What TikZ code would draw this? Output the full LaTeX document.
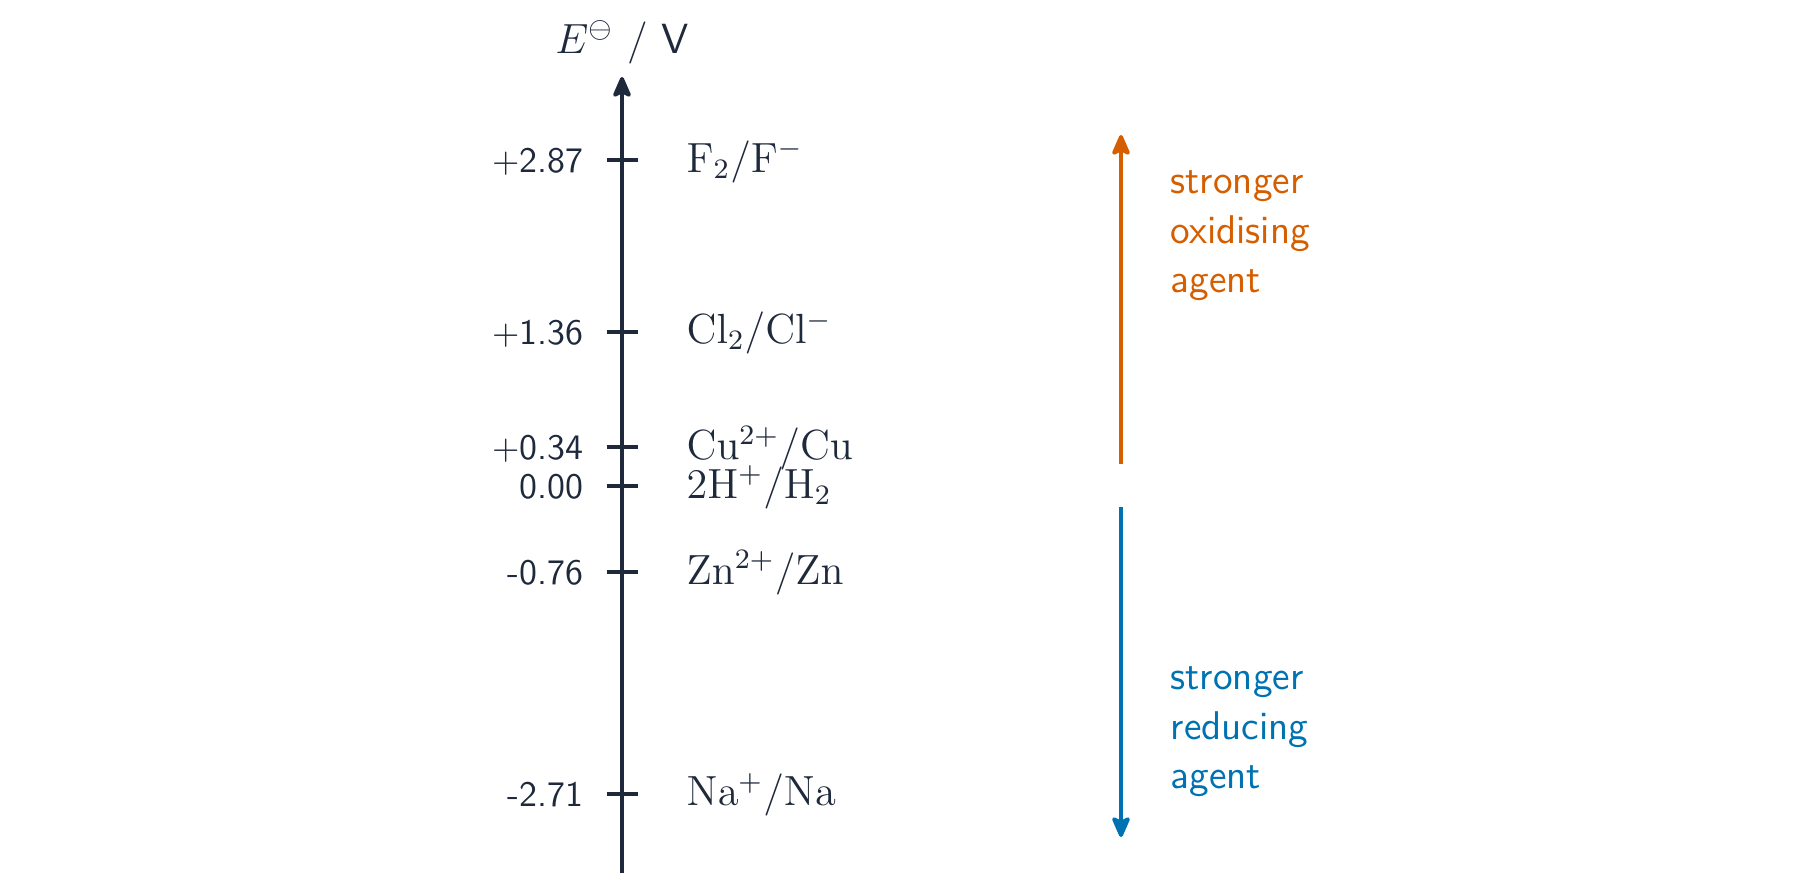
\documentclass[tikz,border=0pt]{standalone}
\usetikzlibrary{arrows.meta}
\definecolor{axiscol}{HTML}{1E293B}
\definecolor{oxcol}{HTML}{D55E00}
\definecolor{redcol}{HTML}{0072B2}
\begin{document}
\begin{tikzpicture}[
  axisline/.style={draw=axiscol, line width=1.1pt},
  tipup/.style={-{Stealth[length=7pt,width=6pt,inset=1.5pt,round]}},
  tickmark/.style={draw=axiscol, line width=1.1pt},
  ticklabel/.style={anchor=base east, inner sep=0pt, text=axiscol, font=\fontsize{10.2}{12}\selectfont\sffamily},
  species/.style={anchor=base west, inner sep=0pt, text=axiscol, font=\fontsize{12}{14}\selectfont},
  agentlabel/.style={anchor=west, inner sep=0pt, align=left, font=\fontsize{11.4}{14.1}\selectfont\sffamily},
  agentarrow/.style={line width=1.1pt, -{Stealth[length=7pt,width=6pt,inset=1.5pt,round]}},
]
\useasboundingbox (0,0) rectangle (18,8.82);
% axis
\coordinate (axbot) at (6.22,0.09);
\coordinate (axtop) at (6.22,8.05);
\draw[axisline,tipup] (axbot) -- (axtop);
\node[anchor=base, inner sep=0pt, text=axiscol, font=\fontsize{12}{14}\selectfont] (title) at (6.22,8.29) {$E^{\ominus}$ / \textsf{V}};
% tick positions
\coordinate (t1) at (6.22,7.217);
\coordinate (t2) at (6.22,5.504);
\coordinate (t3) at (6.22,4.346);
\coordinate (t4) at (6.22,3.960);
\coordinate (t5) at (6.22,3.097);
\coordinate (t6) at (6.22,0.884);
\foreach \t in {t1,t2,t3,t4,t5,t6}{
  \draw[tickmark] ([xshift=-0.155cm]\t) -- ([xshift=0.155cm]\t);
}
% tick labels
\node[ticklabel] (v1) at ([xshift=-0.38cm,yshift=-0.125cm]t1) {$+$2.87};
\node[ticklabel] (v2) at ([xshift=-0.38cm,yshift=-0.125cm]t2) {$+$1.36};
\node[ticklabel] (v3) at ([xshift=-0.38cm,yshift=-0.125cm]t3) {$+$0.34};
\node[ticklabel] (v4) at ([xshift=-0.38cm,yshift=-0.125cm]t4) {0.00};
\node[ticklabel] (v5) at ([xshift=-0.38cm,yshift=-0.125cm]t5) {-0.76};
\node[ticklabel] (v6) at ([xshift=-0.38cm,yshift=-0.125cm]t6) {-2.71};
% couples
\node[species] (s1) at ([xshift=0.64cm,yshift=-0.12cm]t1) {$\mathrm{F_2/F^{-}}$};
\node[species] (s2) at ([xshift=0.64cm,yshift=-0.12cm]t2) {$\mathrm{Cl_2/Cl^{-}}$};
\node[species] (s3) at ([xshift=0.64cm,yshift=-0.12cm]t3) {$\mathrm{Cu^{2+}/Cu}$};
\node[species] (s4) at ([xshift=0.64cm,yshift=-0.12cm]t4) {$\mathrm{2H^{+}/H_2}$};
\node[species] (s5) at ([xshift=0.64cm,yshift=-0.12cm]t5) {$\mathrm{Zn^{2+}/Zn}$};
\node[species] (s6) at ([xshift=0.64cm,yshift=-0.12cm]t6) {$\mathrm{Na^{+}/Na}$};
% agent arrows
\coordinate (oxbot) at (11.21,4.18);
\coordinate (oxtop) at (11.21,7.47);
\coordinate (redtop) at (11.21,3.75);
\coordinate (redbot) at (11.21,0.45);
\draw[agentarrow, draw=oxcol, fill=oxcol] (oxbot) -- (oxtop);
\draw[agentarrow, draw=redcol, fill=redcol] (redtop) -- (redbot);
\node[agentlabel, text=oxcol] (oxtext) at (11.70,6.46) {stronger\\oxidising\\agent};
\node[agentlabel, text=redcol] (redtext) at (11.70,1.50) {stronger\\reducing\\agent};
\end{tikzpicture}
\end{document}
